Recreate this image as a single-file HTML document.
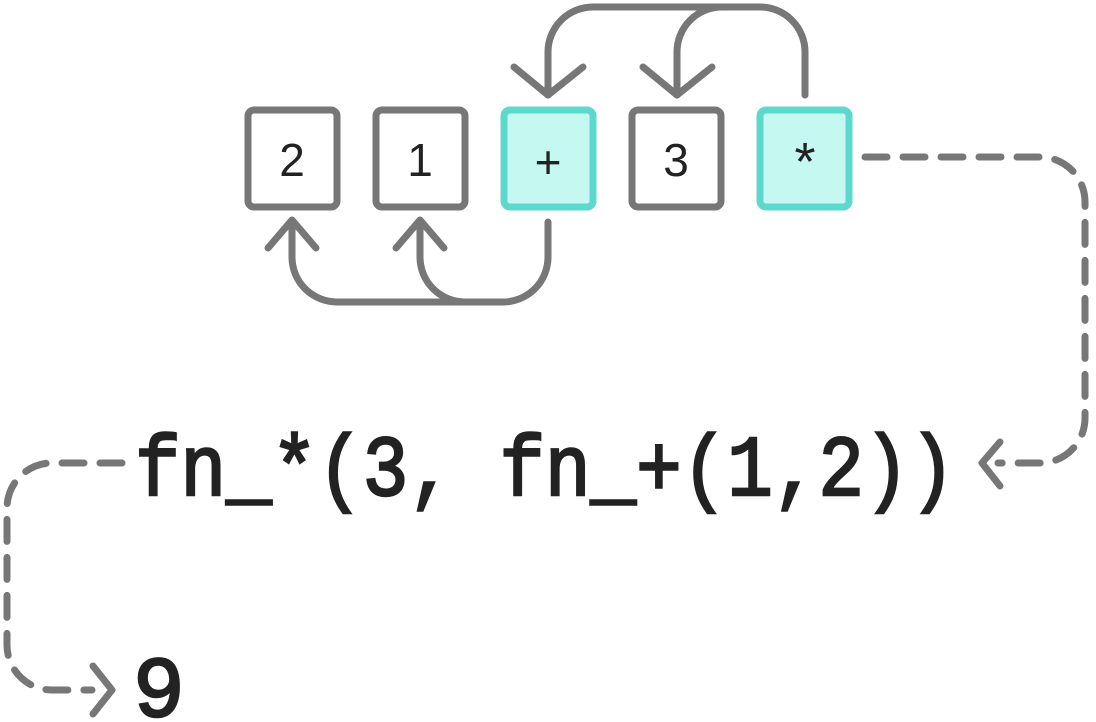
<!DOCTYPE html>
<html><head><style>body{margin:0;background:#fff}svg{display:block}</style></head>
<body>
<svg width="1096" height="722" viewBox="0 0 1096 722" xmlns="http://www.w3.org/2000/svg">
<g fill="#fff" stroke="#777" stroke-width="7">
<rect x="248" y="110" width="89" height="97" rx="6"/>
<rect x="376" y="110" width="89" height="97" rx="6"/>
<rect x="632" y="110" width="89" height="97" rx="6"/>
</g>
<g fill="#c6f8f2" stroke="#5cd8cc" stroke-width="7">
<rect x="504" y="110" width="89" height="97" rx="6"/>
<rect x="760" y="110" width="89" height="97" rx="6"/>
</g>
<g font-family="Liberation Sans, sans-serif" font-size="46" fill="#222" text-anchor="middle">
<text x="292" y="176">2</text>
<text x="420" y="176">1</text>
<text x="548" y="178">+</text>
<text x="676" y="176">3</text>
<text x="805" y="180" font-size="54">*</text>
</g>
<g fill="none" stroke="#777" stroke-width="7" stroke-linecap="round" stroke-linejoin="round">
<path d="M805 95 V52 A45 45 0 0 0 760 7 H593 A45 45 0 0 0 548 52 V95"/>
<path d="M722 7 A45 45 0 0 0 677 52 V95"/>
<polyline points="514,67 548,95 583,67"/>
<polyline points="643,67 677,95 712,67"/>
<path d="M548 222 V258 A45 45 0 0 1 503 302 H337 A45 45 0 0 1 292 258 V222"/>
<path d="M465 302 A45 45 0 0 1 420 258 V222"/>
<polyline points="268,248 292,220 316,248"/>
<polyline points="396,248 420,220 444,248"/>
</g>
<g fill="none" stroke="#777" stroke-width="7" stroke-linecap="round">
<path d="M865 157 H1040 A45 45 0 0 1 1085 202 V418 A45 45 0 0 1 1040 463 H998" stroke-dasharray="22 16"/>
<polyline points="1000,442 982,463 1000,486" stroke-linejoin="round"/>
<path d="M122 463 H52 A45 45 0 0 0 7 508 V645 A45 45 0 0 0 52 690 H92" stroke-dasharray="22 16"/>
<polyline points="93,666 112,690 93,714" stroke-linejoin="round"/>
</g>
<g font-family="Liberation Mono, monospace" font-size="86" fill="#222" stroke="#222" stroke-width="2.5">
<text x="135" y="495" textLength="820" lengthAdjust="spacingAndGlyphs">fn_*(3, fn_+(1,2))</text>
<text x="133" y="716">9</text>
</g>
</svg>
</body></html>
